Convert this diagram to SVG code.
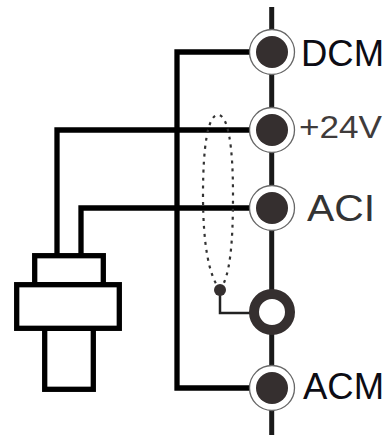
<svg xmlns="http://www.w3.org/2000/svg" width="387" height="435" viewBox="0 0 387 435">
<style>
.w{fill:none;stroke:#000;stroke-width:5.300;stroke-linejoin:miter}
.b{fill:none;stroke:#1a1a1a;stroke-width:5}
.o{fill:#fff;stroke:#666;stroke-width:1.300}
.d{fill:#352f2f}
.s{fill:#fff;stroke:#000;stroke-width:5.300}
text{font-family:"Liberation Sans",Arial,sans-serif;fill:#0c0c14}
</style>
<rect width="387" height="435" fill="#fff"/>
<g id="connectors">
<path class="b" d="M271.700 7V435"/>
<path class="w" d="M250 52H177V388H250"/>
<path class="w" d="M250 130H57V256"/>
<path class="w" d="M250 208H81V256"/>
<path fill="none" stroke="#222" stroke-width="2.500" d="M220 290V313H250"/>
<path fill="none" stroke="#333" stroke-width="2.200" stroke-dasharray="3 5" d="M220 290C209 276 203 245 203 195C203 145 208 115 218 115C228 115 233 145 233 195C233 245 230 276 220 290"/>
</g>
<g id="node-dcm"><circle class="o" cx="272" cy="52" r="22.500"/><circle class="d" cx="272" cy="52" r="16"/><text x="301" y="66" font-size="36" textLength="83" lengthAdjust="spacingAndGlyphs">DCM</text></g>
<g id="node-24v"><circle class="o" cx="272" cy="130" r="22.500"/><circle class="d" cx="272" cy="130" r="16"/><text x="299" y="138" font-size="31" textLength="83" lengthAdjust="spacingAndGlyphs" style="fill:#3f3b3b">+24V</text></g>
<g id="node-aci"><circle class="o" cx="272" cy="208" r="22.500"/><circle class="d" cx="272" cy="208" r="16"/><text x="307" y="221" font-size="37" textLength="68" lengthAdjust="spacingAndGlyphs" style="fill:#333">ACI</text></g>
<g id="node-gnd"><circle cx="272" cy="312" r="18" fill="#fff" stroke="#352f2f" stroke-width="10"/><circle class="d" cx="220" cy="290" r="6"/></g>
<g id="node-acm"><circle class="o" cx="272" cy="388" r="22.500"/><circle class="d" cx="272" cy="388" r="16"/><text x="303" y="399" font-size="36" textLength="81" lengthAdjust="spacingAndGlyphs">ACM</text></g>
<g id="sensor">
<rect class="s" x="34.700" y="255.700" width="68.600" height="29"/>
<rect class="s" x="44.700" y="328.300" width="48.600" height="61"/>
<rect class="s" x="16.700" y="284.700" width="102.600" height="43.600"/>
</g>
</svg>
